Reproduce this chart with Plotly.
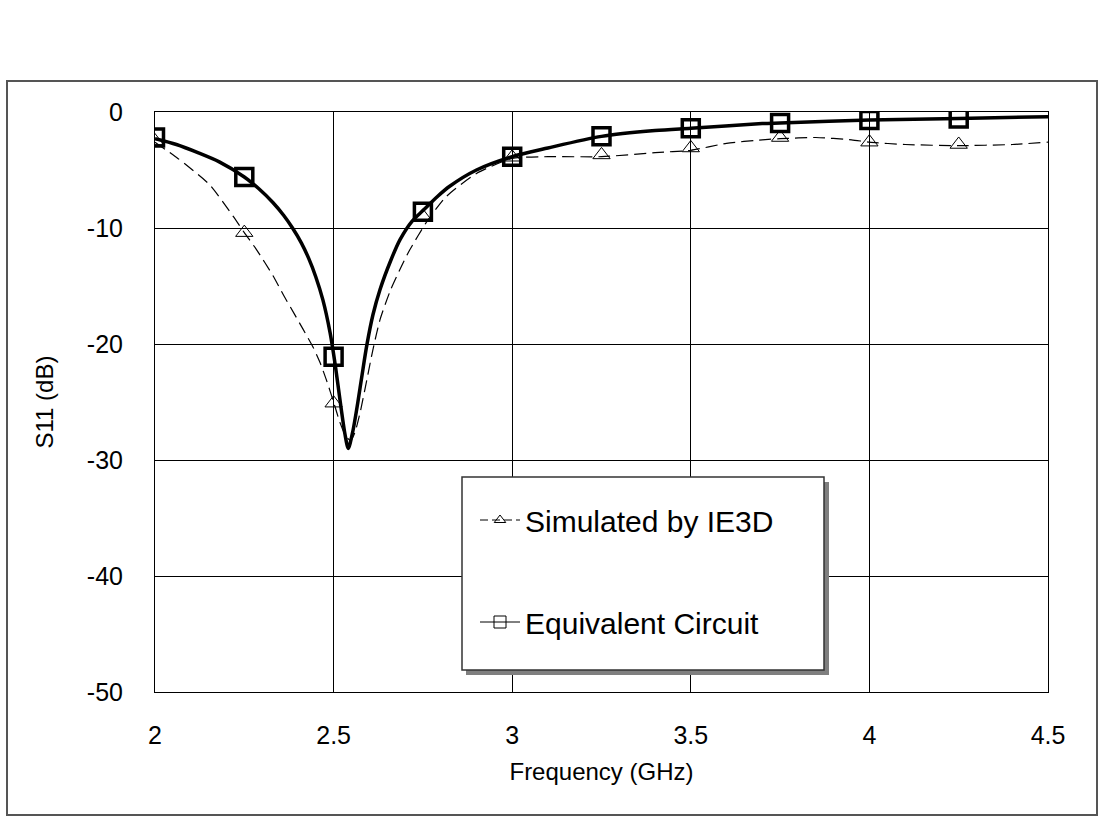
import plotly.graph_objects as go

# ---- data ----
ie3d_freq = [2.0, 2.064, 2.093, 2.154, 2.219, 2.25, 2.285, 2.33, 2.36, 2.39, 2.414, 2.443,
             2.462, 2.481, 2.50, 2.517, 2.535, 2.548, 2.56, 2.575, 2.593, 2.61, 2.63, 2.66,
             2.69, 2.713, 2.76, 2.815, 2.9, 3.0, 3.1, 3.25, 3.4, 3.5, 3.6, 3.7, 3.75, 3.85,
             3.95, 4.0, 4.1, 4.25, 4.4, 4.5]
ie3d_db = [-2.6, -4.0, -4.7, -6.3, -9.0, -10.4, -11.9, -14.1, -15.8, -17.4, -18.7, -20.3,
           -21.6, -23.2, -25.0, -26.7, -28.0, -28.3, -27.6, -25.8, -23.1, -20.5, -17.9, -15.3,
           -13.3, -11.9, -9.5, -7.3, -5.3, -4.0, -3.85, -3.85, -3.5, -3.3, -2.7, -2.4, -2.3, -2.2,
           -2.4, -2.6, -2.8, -2.9, -2.8, -2.6]

eq_freq = [2.0, 2.06, 2.12, 2.18, 2.25, 2.29, 2.33, 2.36, 2.385, 2.41, 2.43, 2.45, 2.47,
           2.49, 2.505, 2.52, 2.532, 2.541, 2.554, 2.568, 2.58, 2.593, 2.61, 2.63, 2.66, 2.686,
           2.72, 2.75, 2.79, 2.825, 2.9, 3.0, 3.1, 3.25, 3.4, 3.5, 3.7, 3.75, 4.0, 4.25, 4.5]
eq_db = [-2.3, -2.8, -3.5, -4.3, -5.6, -6.6, -7.8, -8.9, -10.0, -11.3, -12.6, -14.2, -16.2,
         -19.0, -21.9, -25.3, -27.8, -29.0, -27.5, -25.0, -22.6, -20.1, -17.5, -15.3, -12.8,
         -11.0, -9.4, -8.5, -7.3, -6.4, -5.0, -3.85, -3.1, -2.1, -1.6, -1.4, -1.0, -0.95, -0.7,
         -0.55, -0.4]

marker_freq = [2.0, 2.25, 2.5, 2.75, 3.0, 3.25, 3.5, 3.75, 4.0, 4.25]
ie3d_marker_db = [-2.5, -10.4, -25.1, -9.0, -3.9, -3.7, -3.1, -2.2, -2.6, -2.8]
eq_marker_db = [-2.2, -5.6, -21.1, -8.6, -3.85, -2.1, -1.4, -0.95, -0.7, -0.55]

series_names = ["Simulated by IE3D", "Equivalent Circuit"]
x_ticks = [2, 2.5, 3, 3.5, 4, 4.5]
x_tick_text = ["2", "2.5", "3", "3.5", "4", "4.5"]
y_ticks = [0, -10, -20, -30, -40, -50]
y_tick_text = ["0", "-10", "-20", "-30", "-40", "-50"]

FONT = "Liberation Sans, Arial, sans-serif"

fig = go.Figure()

# curves
fig.add_trace(go.Scatter(x=ie3d_freq, y=ie3d_db, mode="lines",
                         line=dict(color="black", width=1.2, dash="12px,6px", shape="spline", smoothing=0.6),
                         showlegend=False, hoverinfo="skip"))
fig.add_trace(go.Scatter(x=eq_freq, y=eq_db, mode="lines",
                         line=dict(color="black", width=3.5, shape="spline", smoothing=0.8),
                         showlegend=False, hoverinfo="skip"))
# markers
fig.add_trace(go.Scatter(x=marker_freq, y=ie3d_marker_db, mode="markers",
                         marker=dict(symbol="triangle-up-open", size=15, color="black",
                                     line=dict(width=1, color="black")),
                         showlegend=False))
fig.add_trace(go.Scatter(x=marker_freq, y=eq_marker_db, mode="markers",
                         marker=dict(symbol="square-open", size=17, color="black",
                                     line=dict(width=3.5, color="black")),
                         showlegend=False))

# legend entries
fig.add_trace(go.Scatter(x=[None], y=[None], mode="lines+markers", name=series_names[0],
                         legendgroup="a",
                         line=dict(color="black", width=1, dash="8px,4px"),
                         marker=dict(symbol="triangle-up-open", size=10, color="black",
                                     line=dict(width=1, color="black"))))
fig.add_trace(go.Scatter(x=[None], y=[None], mode="lines+markers", name=series_names[1],
                         legendgroup="b",
                         line=dict(color="black", width=1),
                         marker=dict(symbol="square-open", size=12, color="black",
                                     line=dict(width=1, color="black"))))

# plot area pixels: x 155..1048, y 112..692
W, H = 1048 - 155, 692 - 112


def px(xp):
    return (xp - 155) / W


def py(yp):
    return (692 - yp) / H


shapes = [
    # outer border
    dict(type="rect", xref="paper", yref="paper", x0=px(7), x1=px(1097), y0=py(815), y1=py(81),
         line=dict(color="#555555", width=2), fillcolor="rgba(0,0,0,0)", layer="below"),
    # legend shadow
    dict(type="rect", xref="paper", yref="paper", x0=px(466), x1=px(829), y0=py(675), y1=py(482),
         line=dict(width=0), fillcolor="#7f7f7f", layer="above"),
    # legend box
    dict(type="rect", xref="paper", yref="paper", x0=px(462), x1=px(824), y0=py(670), y1=py(477),
         line=dict(color="#333333", width=1.5), fillcolor="white", layer="above"),
]

fig.update_layout(
    width=1104, height=816,
    margin=dict(l=155, r=1104 - 1048, t=112, b=816 - 692, pad=0),
    paper_bgcolor="white", plot_bgcolor="white",
    font=dict(family=FONT, color="black"),
    shapes=shapes,
    showlegend=True,
    legend=dict(x=px(475), y=py(494), xanchor="left", yanchor="top",
                bgcolor="rgba(0,0,0,0)", borderwidth=0,
                font=dict(size=30, family=FONT, color="black"),
                tracegroupgap=60, itemwidth=40),
)

fig.update_xaxes(range=[2, 4.5], tickvals=x_ticks, ticktext=x_tick_text,
                 showgrid=True, gridcolor="black", gridwidth=1,
                 showline=True, linecolor="black", linewidth=1, mirror=True,
                 ticks="", ticklabelstandoff=21, zeroline=False,
                 tickfont=dict(size=25, family=FONT),
                 title=dict(text="Frequency (GHz)", font=dict(size=24, family=FONT), standoff=15))
fig.update_yaxes(range=[-50, 0], tickvals=y_ticks, ticktext=y_tick_text,
                 showgrid=True, gridcolor="black", gridwidth=1,
                 showline=True, linecolor="black", linewidth=1, mirror=True,
                 ticks="", ticklabelstandoff=26, zeroline=False,
                 tickfont=dict(size=25, family=FONT),
                 title=dict(text="S11 (dB)", font=dict(size=24, family=FONT), standoff=26))

fig.write_html("out.html", config={"displayModeBar": False},
               post_script="document.body.style.margin='0';")
